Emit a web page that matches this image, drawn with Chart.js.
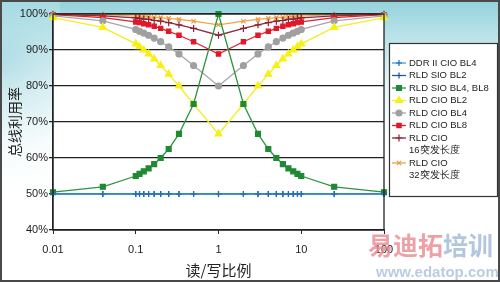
<!DOCTYPE html>
<html>
<head>
<meta charset="utf-8">
<script src="https://cdn.jsdelivr.net/npm/chart.js@4/dist/chart.umd.min.js"></script>
<style>
html,body{margin:0;padding:0;background:#fff;}
#wrap{position:relative;width:500px;height:283px;}
canvas{display:block;}
</style>
</head>
<body>
<div id="wrap"><canvas id="c" width="500" height="283"></canvas></div>
<script>
// Read/write ratio (x)
const ratios = [0.01, 0.04, 0.1, 0.111, 0.125, 0.143, 0.167, 0.2, 0.25, 0.333, 0.5, 1, 2, 3, 4, 5, 6, 7, 8, 9, 10, 25, 100];
const xTicks = [0.01, 0.1, 1, 10, 100];
const xTickLabels = ['0.01', '0.1', '1', '10', '100'];
const yTicks = [40, 50, 60, 70, 80, 90, 100];

// Bus utilisation (%)
const ddr2CioBl4 = [50, 50, 50, 50, 50, 50, 50, 50, 50, 50, 50, 50, 50, 50, 50, 50, 50, 50, 50, 50, 50, 50, 50];
const rldSioBl2  = [50, 50, 50, 50, 50, 50, 50, 50, 50, 50, 50, 50, 50, 50, 50, 50, 50, 50, 50, 50, 50, 50, 50];
const rldSioBl48 = [50.5, 52.0, 55.0, 55.6, 56.3, 57.1, 58.3, 60.0, 62.5, 66.7, 75.0, 100, 75.0, 66.7, 62.5, 60.0, 58.3, 57.1, 56.3, 55.6, 55.0, 52.0, 50.5];
const rldCioBl2  = [99.0, 96.3, 91.7, 90.9, 90.0, 88.9, 87.5, 85.7, 83.3, 80.0, 75.0, 66.7, 75.0, 80.0, 83.3, 85.7, 87.5, 88.9, 90.0, 90.9, 91.7, 96.3, 99.0];
const rldCioBl4  = [99.5, 98.1, 95.7, 95.2, 94.7, 94.1, 93.3, 92.3, 90.9, 88.9, 85.7, 80.0, 85.7, 88.9, 90.9, 92.3, 93.3, 94.1, 94.7, 95.2, 95.7, 98.1, 99.5];
const rldCioBl8  = [99.8, 99.0, 97.8, 97.6, 97.3, 97.0, 96.6, 96.0, 95.2, 94.1, 92.3, 88.9, 92.3, 94.1, 95.2, 96.0, 96.6, 97.0, 97.3, 97.6, 97.8, 99.0, 99.8];
const rldCio16   = [99.9, 99.5, 98.9, 98.8, 98.6, 98.5, 98.2, 98.0, 97.6, 97.0, 96.0, 94.1, 96.0, 97.0, 97.6, 98.0, 98.2, 98.5, 98.6, 98.8, 98.9, 99.5, 99.9];
const rldCio32   = [99.9, 99.8, 99.4, 99.4, 99.3, 99.2, 99.1, 99.0, 98.8, 98.5, 98.0, 97.0, 98.0, 98.5, 98.8, 99.0, 99.1, 99.2, 99.3, 99.4, 99.4, 99.8, 99.9];

const seriesLabels = ['DDR II CIO BL4', 'RLD SIO BL2', 'RLD SIO BL4, BL8', 'RLD CIO BL2', 'RLD CIO BL4', 'RLD CIO BL8', ['RLD CIO', '16突发长度'], ['RLD CIO', '32突发长度']];
const seriesData = [ddr2CioBl4, rldSioBl2, rldSioBl48, rldCioBl2, rldCioBl4, rldCioBl8, rldCio16, rldCio32];

const styles = [
  {line:'#3d9fdc', pt:'#1f6db3', style:'cross', r:3},
  {line:'#1c5ea6', pt:'#174d8c', style:'cross', r:3},
  {line:'#2e9442', pt:'#1f8a33', style:'rect', r:3.5},
  {line:'#f4ee22', pt:'#f7f018', style:'triangle', r:4},
  {line:'#a6a6a6', pt:'#a0a0a0', style:'circle', r:3},
  {line:'#e0202e', pt:'#e0182a', style:'rect', r:3},
  {line:'#8e2b3c', pt:'#8a2236', style:'cross', r:3.5},
  {line:'#f0a248', pt:'#ee9a3a', style:'crossRot', r:3}
];

const datasets = seriesData.map((arr, i) => ({
  label: Array.isArray(seriesLabels[i]) ? seriesLabels[i].join(' ') : seriesLabels[i],
  data: arr.map((v, j) => ({x: ratios[j], y: v})),
  borderColor: styles[i].line,
  backgroundColor: styles[i].pt,
  pointBorderColor: styles[i].pt,
  pointBackgroundColor: styles[i].pt,
  pointStyle: styles[i].style,
  pointRadius: styles[i].r,
  pointBorderWidth: 1.2,
  borderWidth: 1.3,
  tension: 0,
  clip: 6
}));

const bgPlugin = {
  id: 'bg',
  beforeDraw(chart) {
    const ctx = chart.ctx, W = chart.width, H = chart.height, a = chart.chartArea;
    ctx.save();
    ctx.fillStyle = '#ffffff';
    ctx.fillRect(0, 0, W, H);
    let g = ctx.createLinearGradient(0, 0, 0, 140);
    g.addColorStop(0, '#93d2dc');
    g.addColorStop(0.25, '#b9e2e8');
    g.addColorStop(0.6, '#e6f5f7');
    g.addColorStop(1, 'rgba(255,255,255,1)');
    ctx.fillStyle = g;
    ctx.fillRect(0, 0, W, 140);
    let g2 = ctx.createRadialGradient(0, 60, 5, 0, 60, 150);
    g2.addColorStop(0, 'rgba(160,214,223,0.6)');
    g2.addColorStop(1, 'rgba(255,255,255,0)');
    ctx.fillStyle = g2;
    ctx.fillRect(0, 0, 60, 283);
    ctx.fillStyle = '#ffffff';
    ctx.fillRect(a.left, a.top, a.right - a.left, a.bottom - a.top);
    ctx.restore();
  },
  afterDatasetsDraw(chart) {
    const ctx = chart.ctx, a = chart.chartArea;
    ctx.save();
    ctx.strokeStyle = '#222';
    ctx.lineWidth = 1.3;
    ctx.strokeRect(a.left, a.top, a.right - a.left, a.bottom - a.top);
    ctx.restore();
  },
  afterDraw(chart) {
    const ctx = chart.ctx;
    ctx.save();
    // legend box
    const bx = 389, by = 43, bw = 108, bh = 153;
    ctx.fillStyle = '#fff';
    ctx.fillRect(bx, by, bw, bh);
    ctx.strokeStyle = '#333';
    ctx.lineWidth = 1.2;
    ctx.strokeRect(bx + 0.5, by + 0.5, bw, bh);
    ctx.font = '9.5px "Liberation Sans", Arial, sans-serif';
    ctx.textBaseline = 'middle';
    ctx.textAlign = 'left';
    let y = 63;
    seriesLabels.forEach((lab, i) => {
      const st = styles[i];
      ctx.strokeStyle = st.line;
      ctx.lineWidth = 1.3;
      ctx.beginPath();
      ctx.moveTo(392, y);
      ctx.lineTo(406, y);
      ctx.stroke();
      ctx.fillStyle = st.pt;
      ctx.strokeStyle = st.pt;
      ctx.lineWidth = 1.2;
      Chart.helpers.drawPoint(ctx, {pointStyle: st.style, radius: st.r, borderWidth: 1.2, rotation: 0}, 399, y);
      ctx.fillStyle = '#222';
      const lines = Array.isArray(lab) ? lab : [lab];
      lines.forEach((t) => {
        ctx.fillText(t, 409, y);
        y += 12.5;
      });
    });
    // frame
    ctx.strokeStyle = '#4a4a4a';
    ctx.lineWidth = 2;
    ctx.strokeRect(1, 1, 498, 280);
    // watermark
    ctx.globalAlpha = 0.8;
    ctx.textBaseline = 'middle';
    ctx.textAlign = 'left';
    ctx.font = 'bold 25px "Noto Sans CJK SC", sans-serif';
    ctx.fillStyle = '#e98890';
    ctx.fillText('易迪拓', 368, 245);
    ctx.fillStyle = '#9fb8d6';
    ctx.fillText('培训', 443, 245);
    ctx.font = 'bold 15px "Liberation Sans", Arial, sans-serif';
    ctx.fillStyle = '#a9bfd9';
    ctx.fillText('www.edatop.com', 376, 273);
    ctx.restore();
  }
};

new Chart(document.getElementById('c'), {
  type: 'line',
  data: { datasets },
  plugins: [bgPlugin],
  options: {
    responsive: false,
    devicePixelRatio: 1,
    animation: false,
    layout: { padding: { left: 0, right: 116, top: 14, bottom: 0 } },
    plugins: { legend: { display: false }, tooltip: { enabled: false } },
    scales: {
      x: {
        type: 'logarithmic',
        min: 0.01,
        max: 100,
        afterBuildTicks(scale) { scale.ticks = xTicks.map(v => ({value: v})); },
        afterFit(scale) { scale.height = 53; },
        ticks: {
          callback(v) { const i = xTicks.indexOf(v); return i >= 0 ? xTickLabels[i] : ''; },
          font: { size: 11, family: '"Liberation Sans", Arial, sans-serif' },
          color: '#222',
          padding: 9,
          maxRotation: 0,
          autoSkip: false
        },
        grid: { drawOnChartArea: false, drawTicks: true, tickLength: 4, color: '#222' },
        border: { display: true, color: '#222', width: 1.3 },
        title: {
          display: true,
          text: '读/写比例',
          font: { size: 15, family: '"Noto Sans CJK SC", sans-serif' },
          color: '#222',
          padding: { top: 0, bottom: 4 }
        }
      },
      y: {
        min: 40,
        max: 100,
        afterBuildTicks(scale) { scale.ticks = yTicks.map(v => ({value: v})); },
        afterFit(scale) { scale.width = 53; },
        ticks: {
          callback(v) { return v + '%'; },
          font: { size: 11, family: '"Liberation Sans", Arial, sans-serif' },
          color: '#222',
          padding: 1
        },
        grid: { color: '#222', lineWidth: 1.3, tickLength: 4, drawTicks: true },
        border: { display: true, color: '#222', width: 1.3 },
        title: {
          display: true,
          text: '总线利用率',
          font: { size: 14, family: '"Noto Sans CJK SC", sans-serif' },
          color: '#222',
          padding: { top: 6, bottom: 0 }
        }
      }
    }
  }
});
</script>
</body>
</html>
